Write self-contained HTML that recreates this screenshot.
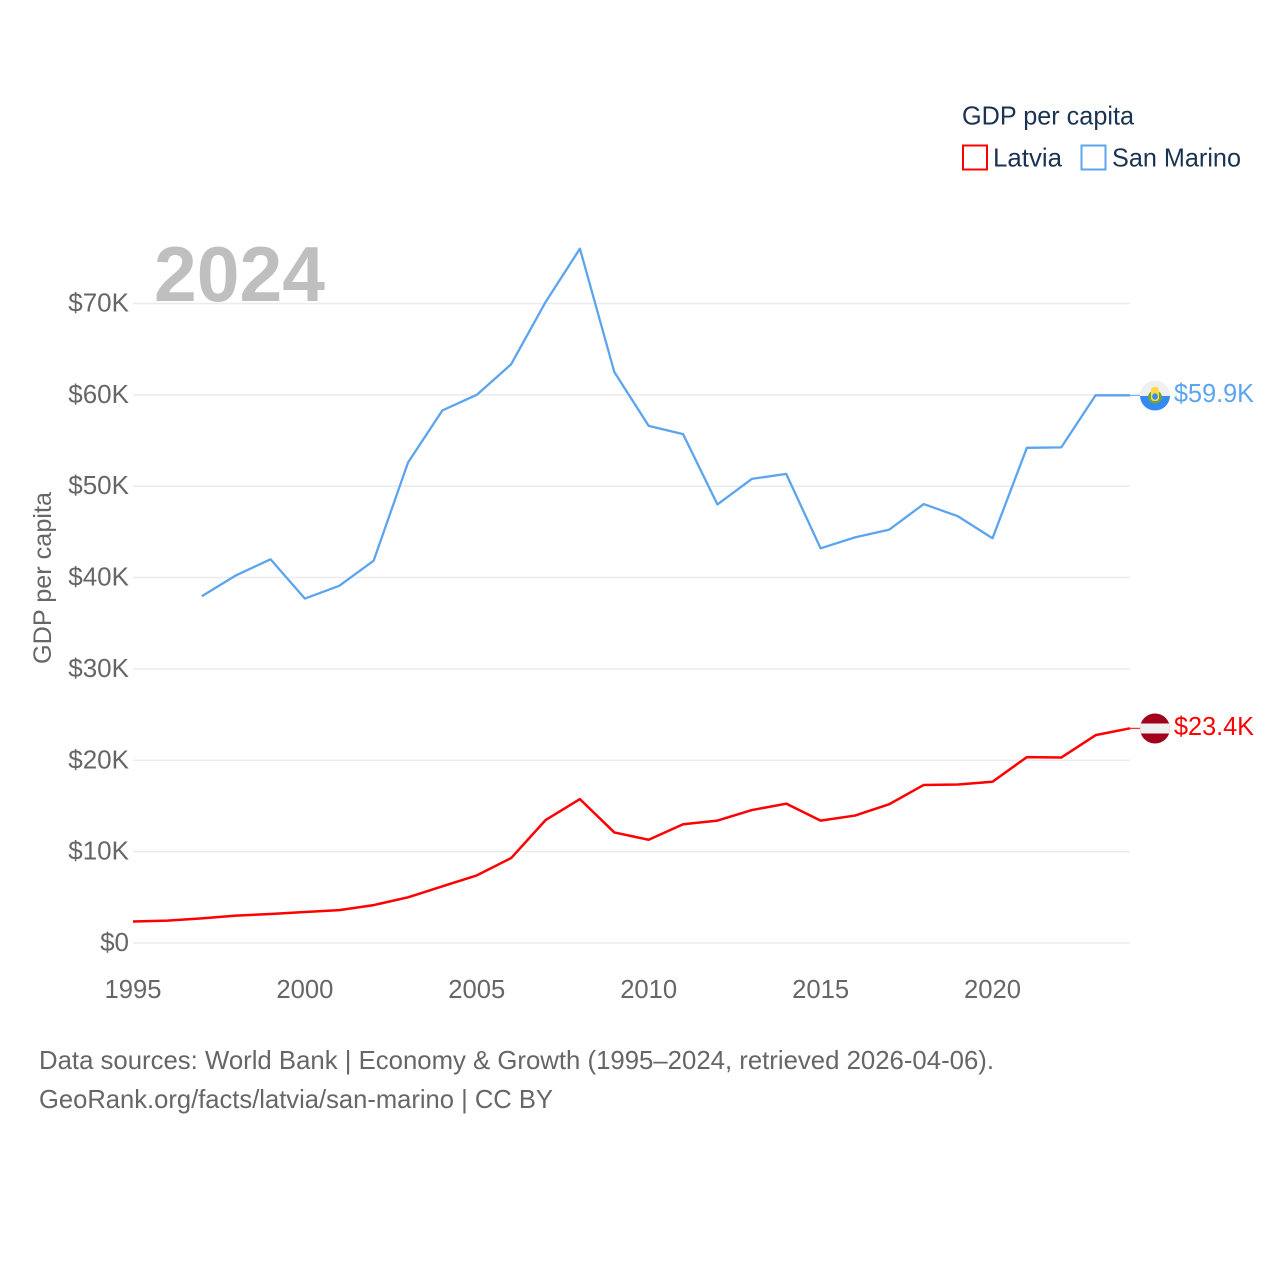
<!DOCTYPE html>
<html lang="en">
<head>
<meta charset="utf-8">
<title>GDP per capita: Latvia and San Marino</title>
<style>
html,body{margin:0;padding:0;background:#fff;}
svg{display:block;font-family:"Liberation Sans",sans-serif;}
</style>
</head>
<body>
<svg id="chart" width="1280" height="1280" viewBox="0 0 1280 1280" xmlns="http://www.w3.org/2000/svg">
  <g id="grid"></g>
  <text x="154" y="301" font-size="78" font-weight="700" fill="#bfbfbf" textLength="171" lengthAdjust="spacingAndGlyphs">2024</text>
  <g id="yticks"></g>
  <g id="xticks"></g>
  <text transform="translate(51,664) rotate(-90)" font-size="25" fill="#666666" textLength="172" lengthAdjust="spacingAndGlyphs">GDP per capita</text>
  <g id="series"></g>

  <g>
    <text x="962" y="124.5" font-size="26" fill="#1a3353" textLength="172" lengthAdjust="spacingAndGlyphs">GDP per capita</text>
    <g>
      <rect x="963" y="145.5" width="24" height="24" fill="none" stroke="#ff0000" stroke-width="2"/>
      <text x="993" y="166.5" font-size="26" fill="#1a3353" textLength="69" lengthAdjust="spacingAndGlyphs">Latvia</text>
    </g>
    <g>
      <rect x="1081.5" y="145.5" width="24" height="24" fill="none" stroke="#5ba4ee" stroke-width="2"/>
      <text x="1112" y="166.5" font-size="26" fill="#1a3353" textLength="129" lengthAdjust="spacingAndGlyphs">San Marino</text>
    </g>
  </g>

  <g>
    <clipPath id="clip-sm"><circle cx="1155" cy="395.5" r="15"/></clipPath>
    <g clip-path="url(#clip-sm)">
      <rect x="1140" y="380" width="30" height="16" fill="#f0f0f0"/>
      <rect x="1140" y="396" width="30" height="16" fill="#338af3"/>
      <ellipse cx="1155" cy="397" rx="7" ry="6.5" fill="#6da544"/>
      <rect x="1151" y="387" width="8" height="14" rx="3" fill="#ffda44"/>
      <ellipse cx="1155" cy="396.5" rx="2.8" ry="3.2" fill="#338af3"/>
    </g>
  </g>
  <g>
    <clipPath id="clip-lv"><circle cx="1155" cy="728.5" r="15"/></clipPath>
    <g clip-path="url(#clip-lv)">
      <rect x="1140" y="713" width="30" height="31" fill="#a2001d"/>
      <rect x="1140" y="723.5" width="30" height="10" fill="#f0f0f0"/>
    </g>
  </g>

  <text x="1174" y="402" font-size="26" fill="#5ba4ee" textLength="80" lengthAdjust="spacingAndGlyphs">$59.9K</text>
  <text x="1174" y="735" font-size="26" fill="#ff0000" textLength="80" lengthAdjust="spacingAndGlyphs">$23.4K</text>

  <g>
    <text x="39" y="1069" font-size="26" fill="#666666" textLength="955" lengthAdjust="spacingAndGlyphs">Data sources: World Bank | Economy &amp; Growth (1995–2024, retrieved 2026-04-06).</text>
    <text x="39" y="1108" font-size="26" fill="#666666" textLength="514" lengthAdjust="spacingAndGlyphs">GeoRank.org/facts/latvia/san-marino | CC BY</text>
  </g>
</svg>
<script>
const years = [1995,1996,1997,1998,1999,2000,2001,2002,2003,2004,2005,2006,2007,2008,2009,2010,2011,2012,2013,2014,2015,2016,2017,2018,2019,2020,2021,2022,2023,2024];
const latviaValues = [2.35,2.45,2.7,3.0,3.17,3.4,3.6,4.15,5.0,6.2,7.4,9.3,13.45,15.75,12.1,11.3,13.0,13.4,14.55,15.25,13.4,13.95,15.2,17.3,17.35,17.65,20.35,20.3,22.75,23.5];
const sanMarinoValues = [null,null,37.95,40.25,42.0,37.7,39.1,41.85,52.6,58.3,60.0,63.35,70.15,76.0,62.5,56.6,55.7,48.0,50.8,51.35,43.2,44.4,45.25,48.05,46.7,44.3,54.2,54.25,59.95,59.95];
const yTickValues = [0,10,20,30,40,50,60,70];
const yTickLabels = ["$0","$10K","$20K","$30K","$40K","$50K","$60K","$70K"];
const xTickValues = [1995,2000,2005,2010,2015,2020];

const NS = "http://www.w3.org/2000/svg";
function xScale(year){ return 133 + (year - 1995) * (997 / 29); }
function yScale(v){ return 943 - v * 9.136; }
function make(tag, attrs, parent){
  const el = document.createElementNS(NS, tag);
  for (const k in attrs) el.setAttribute(k, attrs[k]);
  parent.appendChild(el);
  return el;
}
const grid = document.getElementById("grid");
const yG = document.getElementById("yticks");
const xG = document.getElementById("xticks");
const seriesG = document.getElementById("series");

yTickValues.forEach(function(v, i){
  const line = make("line", {x1:133, x2:1130, y1:yScale(v), y2:yScale(v), stroke:"#ebebeb", "stroke-width":1.5}, grid);
  
  
  const t = make("text", {x:129, y:yScale(v)+8, "text-anchor":"end", "font-size":26, fill:"#666666"}, yG);
  
  
  t.textContent = yTickLabels[i];
});

xTickValues.forEach(function(y){
  const t = make("text", {x:xScale(y), y:998, "text-anchor":"middle", "font-size":26, fill:"#666666", textLength:57, lengthAdjust:"spacingAndGlyphs"}, xG);
  
  
  t.textContent = String(y);
});

function pathFor(values){
  let d = "";
  values.forEach(function(v, i){
    if (v === null) return;
    d += (d ? "L" : "M") + xScale(years[i]).toFixed(2) + " " + yScale(v).toFixed(2);
  });
  return d;
}
function lastY(values){ return yScale(values[values.length - 1]); }

const smLine = make("path", {d:pathFor(sanMarinoValues), fill:"none", stroke:"#5ba4ee", "stroke-width":2.3, "stroke-linejoin":"round"}, seriesG);


const lvLine = make("path", {d:pathFor(latviaValues), fill:"none", stroke:"#ff0000", "stroke-width":2.5, "stroke-linejoin":"round"}, seriesG);



const smConn = make("line", {x1:1130, x2:1140, y1:lastY(sanMarinoValues), y2:lastY(sanMarinoValues), stroke:"#5ba4ee", "stroke-width":1}, seriesG);


const lvConn = make("line", {x1:1130, x2:1140, y1:lastY(latviaValues), y2:lastY(latviaValues), stroke:"#ff0000", "stroke-width":1}, seriesG);


</script>
</body>
</html>
